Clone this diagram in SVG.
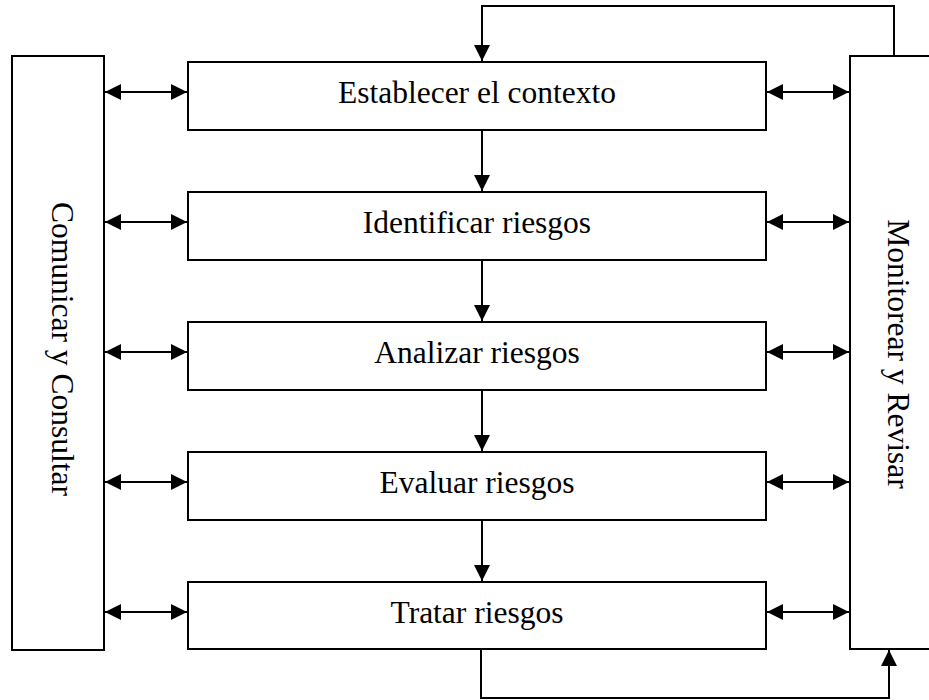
<svg xmlns="http://www.w3.org/2000/svg" width="929" height="700" viewBox="0 0 929 700">
<style>
.box{fill:#fff;stroke:#000;stroke-width:2}
.lbl{font-family:"Liberation Serif","Times New Roman",serif;font-size:31.5px;fill:#000;text-anchor:middle}
.con{fill:none;stroke:#000;stroke-width:2}
</style>
<defs>
<marker id="ah" markerUnits="userSpaceOnUse" markerWidth="16" markerHeight="16" viewBox="0 0 15 15" refX="15" refY="7.5" orient="auto-start-reverse">
<path d="M0,0 L15,7.5 L0,15 Z" fill="#000"/>
</marker>
</defs>
<rect width="929" height="700" fill="#fff"/>
<g id="comunicar"><rect class="box" x="12" y="56" width="92" height="594"/>
<text class="lbl" transform="translate(52,349) rotate(90)">Comunicar y Consultar</text></g>
<g id="monitorear"><rect class="box" x="850" y="56" width="100" height="593"/>
<text class="lbl" transform="translate(888,354) rotate(90)">Monitorear y Revisar</text></g>
<g id="establecer"><rect class="box" x="188" y="62" width="578" height="68"/><text class="lbl" x="477" y="103">Establecer el contexto</text></g>
<g id="identificar"><rect class="box" x="188" y="192" width="578" height="68"/><text class="lbl" x="477" y="233">Identificar riesgos</text></g>
<g id="analizar"><rect class="box" x="188" y="322" width="578" height="68"/><text class="lbl" x="477" y="363">Analizar riesgos</text></g>
<g id="evaluar"><rect class="box" x="188" y="452" width="578" height="68"/><text class="lbl" x="477" y="493">Evaluar riesgos</text></g>
<g id="tratar"><rect class="box" x="188" y="582" width="578" height="67"/><text class="lbl" x="477" y="623">Tratar riesgos</text></g>
<g id="connectors">
<path class="con" d="M105,92 H187" marker-start="url(#ah)" marker-end="url(#ah)"/>
<path class="con" d="M105,222 H187" marker-start="url(#ah)" marker-end="url(#ah)"/>
<path class="con" d="M105,352 H187" marker-start="url(#ah)" marker-end="url(#ah)"/>
<path class="con" d="M105,482 H187" marker-start="url(#ah)" marker-end="url(#ah)"/>
<path class="con" d="M105,612 H187" marker-start="url(#ah)" marker-end="url(#ah)"/>
<path class="con" d="M767,92 H849" marker-start="url(#ah)" marker-end="url(#ah)"/>
<path class="con" d="M767,222 H849" marker-start="url(#ah)" marker-end="url(#ah)"/>
<path class="con" d="M767,352 H849" marker-start="url(#ah)" marker-end="url(#ah)"/>
<path class="con" d="M767,482 H849" marker-start="url(#ah)" marker-end="url(#ah)"/>
<path class="con" d="M767,612 H849" marker-start="url(#ah)" marker-end="url(#ah)"/>
<path class="con" d="M482,131 V191" marker-end="url(#ah)"/>
<path class="con" d="M482,261 V321" marker-end="url(#ah)"/>
<path class="con" d="M482,391 V451" marker-end="url(#ah)"/>
<path class="con" d="M482,521 V581" marker-end="url(#ah)"/>
<path class="con" d="M894,55 V6 H482 V61" marker-end="url(#ah)"/>
<path class="con" d="M481,650 V698 H889 V650" marker-end="url(#ah)"/>
</g>
</svg>
